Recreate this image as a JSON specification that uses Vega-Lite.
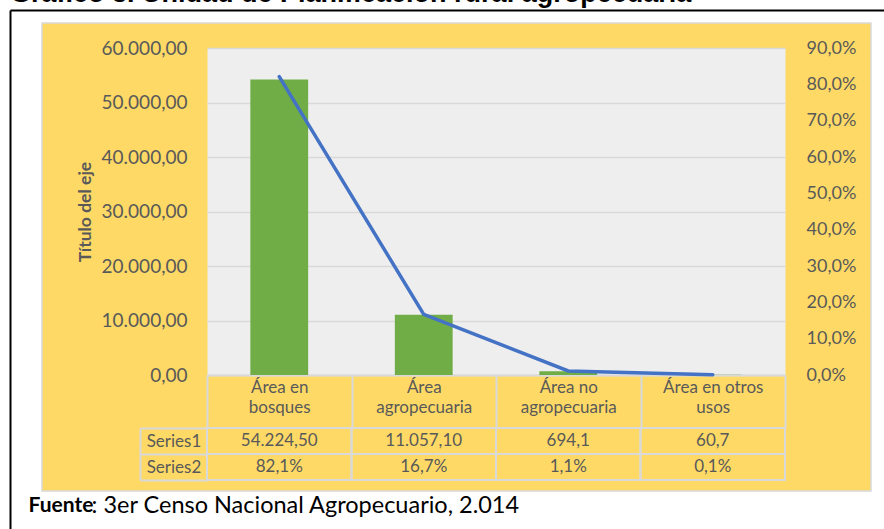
{
  "$schema": "https://vega.github.io/schema/vega-lite/v6.json",
  "autosize": {"type": "none"},
  "padding": {"left": 42, "top": 23, "right": 13, "bottom": 38},
  "width": 829,
  "height": 468,
  "background": "white",
  "title": {
    "text": "Gráfico 3. Unidad de Planificación rural agropecuaria",
    "anchor": "start",
    "frame": "group",
    "orient": "top",
    "offset": 0,
    "dx": -32,
    "dy": 22,
    "baseline": "alphabetic",
    "font": "Liberation Sans",
    "fontSize": 27,
    "fontWeight": "bold",
    "color": "black"
  },
  "config": {
    "locale": {"number": {"decimal": ",", "thousands": ".", "grouping": [3], "currency": ["", ""]}},
    "view": {"fill": "#FFD966", "stroke": "#d9d9d9", "strokeWidth": 1.5},
    "font": "Lato",
    "axis": {"labelFont": "Lato", "titleFont": "Lato"}
  },
  "datasets": {
    "areas": [
      {"categoria": "Área en bosques", "superficie": 54224.5, "porcentaje": 0.821},
      {"categoria": "Área agropecuaria", "superficie": 11057.1, "porcentaje": 0.167},
      {"categoria": "Área no agropecuaria", "superficie": 694.1, "porcentaje": 0.011},
      {"categoria": "Área en otros usos", "superficie": 60.7, "porcentaje": 0.001}
    ],
    "tabla": [
      {"categoria": "Área en bosques", "serie": "Series1", "texto": "54.224,50"},
      {"categoria": "Área agropecuaria", "serie": "Series1", "texto": "11.057,10"},
      {"categoria": "Área no agropecuaria", "serie": "Series1", "texto": "694,1"},
      {"categoria": "Área en otros usos", "serie": "Series1", "texto": "60,7"},
      {"categoria": "Área en bosques", "serie": "Series2", "texto": "82,1%"},
      {"categoria": "Área agropecuaria", "serie": "Series2", "texto": "16,7%"},
      {"categoria": "Área no agropecuaria", "serie": "Series2", "texto": "1,1%"},
      {"categoria": "Área en otros usos", "serie": "Series2", "texto": "0,1%"}
    ]
  },
  "layer": [
    {
      "data": {"name": "areas"},
      "mark": {"type": "bar", "opacity": 0, "width": {"band": 0.4}},
      "encoding": {
        "x": {"field": "categoria", "type": "nominal", "sort": null,
              "scale": {"range": [165, 743], "paddingInner": 0, "paddingOuter": 0}},
        "y": {
          "datum": 30000,
          "type": "quantitative",
          "scale": {"domain": [0, 60000], "range": [352, 25], "nice": false},
          "axis": {
            "orient": "left", "offset": -165, "values": [30000],
            "labels": false, "ticks": false, "domain": false, "title": null,
            "grid": true, "gridColor": "#eeeeee", "gridWidth": 327, "gridCap": "butt"
          }
        }
      }
    },
    {
      "data": {"name": "areas"},
      "mark": {"type": "bar", "color": "#70AD47", "width": {"band": 0.4}},
      "encoding": {
        "x": {
          "field": "categoria", "type": "nominal", "sort": null,
          "scale": {"range": [165, 743], "paddingInner": 0, "paddingOuter": 0},
          "axis": {
            "orient": "bottom", "offset": -116, "bandPosition": 0.5,
            "labelExpr": "[slice(datum.label, 0, lastindexof(datum.label, ' ')), slice(datum.label, lastindexof(datum.label, ' ') + 1)]",
            "labelFontSize": 17, "labelColor": "#595959", "labelLineHeight": 20,
            "labelPadding": -49, "labelOverlap": false, "labelAngle": 0, "labelBaseline": "top", "labelAlign": "center",
            "ticks": true, "tickBand": "extent", "tickSize": 53, "tickColor": "#d9d9d9", "tickWidth": 2,
            "domain": true, "domainColor": "#d9d9d9", "domainWidth": 2, "grid": false,
            "title": ": 3er Censo Nacional Agropecuario, 2.014",
            "titleX": 49, "titleY": 130, "titleAlign": "left", "titleBaseline": "middle", "titleAnchor": "start",
            "titleFontSize": 23.5, "titleFontWeight": "normal", "titleColor": "black"
          }
        },
        "y": {
          "field": "superficie", "type": "quantitative",
          "scale": {"domain": [0, 60000], "range": [352, 25], "nice": false},
          "axis": {
            "orient": "left", "offset": -165,
            "values": [0, 10000, 20000, 30000, 40000, 50000, 60000],
            "format": ",.2f",
            "labelFontSize": 19, "labelColor": "#595959", "labelPadding": 20,
            "ticks": false, "domain": false,
            "grid": true, "gridColor": "#d9d9d9", "gridWidth": 1.5,
            "title": "Título del eje", "titleFontWeight": "bold", "titleFontSize": 17.5,
            "titleColor": "#595959", "titlePadding": 7
          }
        }
      }
    },
    {
      "data": {"name": "areas"},
      "mark": {"type": "line", "color": "#4472C4", "strokeWidth": 3.5, "strokeCap": "round"},
      "encoding": {
        "x": {"field": "categoria", "type": "nominal", "sort": null,
              "scale": {"range": [165, 743], "paddingInner": 0, "paddingOuter": 0}},
        "y": {
          "field": "porcentaje", "type": "quantitative",
          "scale": {"domain": [0, 0.9], "range": [352, 25], "nice": false},
          "axis": {
            "orient": "right", "offset": -86,
            "values": [0, 0.1, 0.2, 0.3, 0.4, 0.5, 0.6, 0.7, 0.8, 0.9],
            "format": ".1%",
            "labelFontSize": 18, "labelColor": "#595959", "labelPadding": 21,
            "ticks": false, "domain": false, "grid": false, "title": null
          }
        }
      }
    },
    {
      "data": {"name": "tabla"},
      "layer": [
        {
          "mark": {"type": "rect", "fill": "transparent", "stroke": "#d9d9d9", "strokeWidth": 2},
          "encoding": {
            "x": {"field": "categoria", "type": "nominal", "sort": null,
                  "scale": {"range": [165, 743], "paddingInner": 0, "paddingOuter": 0}},
            "y": {
              "field": "serie", "type": "nominal", "sort": null,
              "scale": {"range": [405, 457], "paddingInner": 0, "paddingOuter": 0},
              "axis": {
                "orient": "left", "offset": -98, "title": null,
                "labelAlign": "center", "labelPadding": 33.5, "labelBaseline": "middle",
                "labelFontSize": 17, "labelColor": "#595959",
                "ticks": true, "tickBand": "extent", "tickSize": -67, "tickColor": "#d9d9d9", "tickWidth": 2,
                "domain": true, "domainColor": "#d9d9d9", "domainWidth": 2, "grid": false
              }
            }
          }
        },
        {
          "mark": {"type": "text", "fontSize": 17, "color": "#595959", "font": "Lato"},
          "encoding": {
            "x": {"field": "categoria", "type": "nominal", "sort": null},
            "y": {"field": "serie", "type": "nominal", "sort": null},
            "text": {"field": "texto"}
          }
        }
      ]
    },
    {
      "data": {"values": [{"marco": 1}]},
      "mark": {"type": "point", "opacity": 0},
      "encoding": {
        "y": {
          "datum": 1, "type": "quantitative",
          "scale": {"domain": [0, 1], "range": [545, -13], "nice": false},
          "axis": {
            "orient": "left", "offset": 32, "values": [1],
            "labels": false, "grid": false,
            "ticks": true, "tickSize": -900, "tickColor": "black", "tickWidth": 2,
            "domain": true, "domainColor": "black", "domainWidth": 2,
            "title": "Fuente", "titleAngle": 0, "titleX": 18, "titleY": 482,
            "titleAlign": "left", "titleBaseline": "middle",
            "titleFontSize": 21, "titleFontWeight": "bold", "titleColor": "black"
          }
        }
      }
    }
  ],
  "resolve": {"scale": {"y": "independent"}, "axis": {"y": "independent"}}
}
